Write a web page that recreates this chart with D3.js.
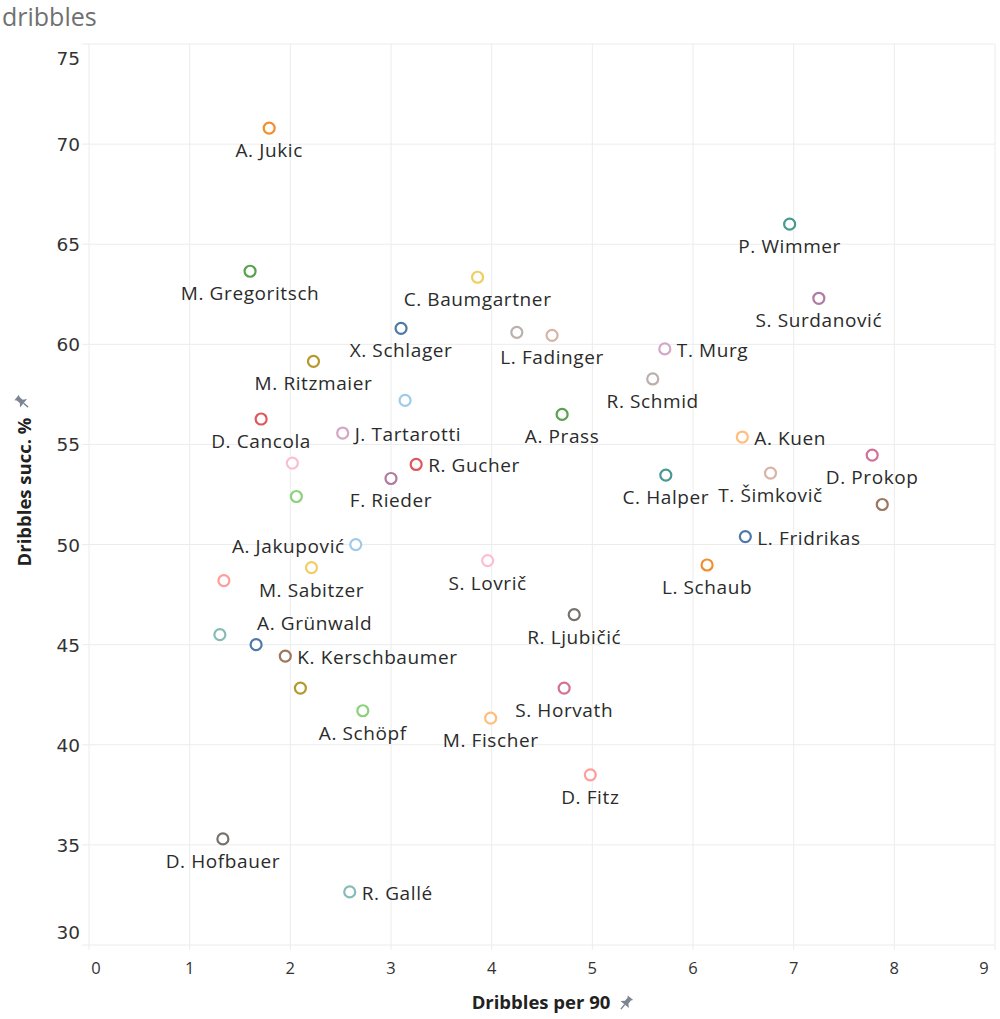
<!DOCTYPE html>
<html><head><meta charset="utf-8">
<script src="https://cdn.jsdelivr.net/npm/d3@7"></script>
<style>
html,body{margin:0;padding:0;background:#fff;}
svg{display:block;}
</style></head>
<body>
<script>
// ---------- data ----------
const players = ["A. Jukic","M. Gregoritsch","C. Baumgartner","X. Schlager","M. Ritzmaier","","L. Fadinger","T. Murg","R. Schmid","P. Wimmer","S. Surdanović","A. Prass","A. Kuen","","D. Cancola","J. Tartarotti","","R. Gucher","F. Rieder","","A. Jakupović","M. Sabitzer","","","A. Grünwald","K. Kerschbaumer","","A. Schöpf","S. Lovrič","R. Ljubičić","S. Horvath","M. Fischer","D. Fitz","D. Hofbauer","R. Gallé","C. Halper","T. Šimkovič","D. Prokop","","L. Fridrikas","L. Schaub"];
const dribblesPer90 = [1.79,1.60,3.86,3.10,2.23,4.25,4.60,5.72,5.60,6.96,7.25,4.70,6.49,3.14,1.71,2.52,2.02,3.25,3.00,2.06,2.65,2.21,1.34,1.30,1.66,1.95,2.10,2.72,3.96,4.82,4.72,3.99,4.98,1.33,2.59,5.73,6.77,7.78,7.88,6.52,6.14];
const dribblesSucc = [70.8,63.65,63.35,60.8,59.15,60.6,60.45,59.77,58.27,66.0,62.3,56.5,55.37,57.2,56.27,55.57,54.07,54.0,53.3,52.4,50.0,48.85,48.2,45.5,45.0,44.43,42.83,41.7,49.2,46.5,42.83,41.33,38.5,35.3,32.65,53.47,53.57,54.47,52.0,50.4,48.98];
const pointColors = ["#f28e2b","#59a14f","#f1ce63","#4e79a7","#b6992d","#bab0ac","#d7b5a6","#d4a6c8","#bab0ac","#499894","#b07aa1","#59a14f","#ffbe7d","#a0cbe8","#e15759","#d4a6c8","#fabfd2","#e15759","#b07aa1","#8cd17d","#a0cbe8","#f1ce63","#ff9d9a","#86bcb6","#4e79a7","#9d7660","#b6992d","#8cd17d","#fabfd2","#79706e","#d37295","#ffbe7d","#ff9d9a","#79706e","#86bcb6","#499894","#d7b5a6","#d37295","#9d7660","#4e79a7","#f28e2b"];
// label placement: b=below, r=right, l=left, a=above (start-anchored)
const labelPlace = ["b","b","b","b","b","","b","r","b","b","b","b","r","","b","r","","r","b","","l","b","","","a","r","","b","b","b","b","b","b","b","r","b","b","b","","r","b"];
const xTicks = [0,1,2,3,4,5,6,7,8,9];
const yTicks = [30,35,40,45,50,55,60,65,70,75];
const chartTitle = "dribbles";
const xTitle = "Dribbles per 90";
const yTitle = "Dribbles succ. %";

// ---------- layout ----------
const W = 1000, H = 1019;
const x = d3.scaleLinear().domain([0,9]).range([89,995]);
const y = d3.scaleLinear().domain([30,75]).range([945,44]);

const svg = d3.select("body").append("svg").attr("width",W).attr("height",H);

svg.append("text").attr("x",2).attr("y",26).text(chartTitle)
  .attr("font-family","'Open Sans', sans-serif").attr("font-size",25).attr("fill","#707070");

// gridlines
const grid = svg.append("g");
grid.selectAll("line.v").data(xTicks).join("line")
  .attr("x1",d=>x(d)).attr("x2",d=>x(d)).attr("y1",y(75)).attr("y2",y(30)+5)
  .attr("stroke","#ececec").attr("stroke-width",1);
grid.selectAll("line.h").data(yTicks).join("line")
  .attr("x1",82).attr("x2",995).attr("y1",d=>y(d)).attr("y2",d=>y(d))
  .attr("stroke","#ececec").attr("stroke-width",1);

// y tick labels
svg.append("g").selectAll("text").data(yTicks).join("text")
  .attr("x",80)
  .attr("y",d=> d===75 ? y(d)+21 : d===30 ? y(d)-6 : y(d)+7)
  .attr("text-anchor","end").text(d=>d)
  .attr("font-family","'DejaVu Sans', Verdana, sans-serif").attr("font-size",18.5).attr("fill","#333");

// x tick labels
svg.append("g").selectAll("text").data(xTicks).join("text")
  .attr("x",d=> d===0 ? x(d)+7 : d===9 ? x(d)-11 : x(d))
  .attr("y",974).attr("text-anchor","middle").text(d=>d)
  .attr("font-family","'Open Sans', sans-serif").attr("font-size",16.5).attr("fill","#333");

// pin icon
function pin(g, px, py, rot){
  const p = g.append("g").attr("transform",`translate(${px},${py}) rotate(${rot})`);
  p.append("path").attr("d","M-3.5,-7 L3.5,-7 L2.2,-5 L2.2,-1 L5.5,2 L-5.5,2 L-2.2,-1 L-2.2,-5 Z").attr("fill","#7d8590");
  p.append("line").attr("x1",0).attr("y1",2).attr("x2",0).attr("y2",8).attr("stroke","#7d8590").attr("stroke-width",1.4);
}

// axis titles
svg.append("text").attr("x",541).attr("y",1009).attr("text-anchor","middle")
  .attr("font-family","'Open Sans', sans-serif").attr("font-weight","bold").attr("font-size",18.5).attr("fill","#222").text(xTitle);
pin(svg, 626, 1003, 40);
svg.append("text").attr("transform","translate(31,492) rotate(-90)").attr("text-anchor","middle")
  .attr("font-family","'Open Sans', sans-serif").attr("font-weight","bold").attr("font-size",18.5).attr("fill","#222").text(yTitle);
pin(svg, 22, 402, -50);

// points
const data = players.map((n,i)=>({name:n, x:dribblesPer90[i], y:dribblesSucc[i], c:pointColors[i], p:labelPlace[i]}));
svg.append("g").selectAll("circle").data(data).join("circle")
  .attr("cx",d=>x(d.x)).attr("cy",d=>y(d.y)).attr("r",5.5)
  .attr("fill","#fff").attr("stroke",d=>d.c).attr("stroke-width",2.2);

// labels
const lab = svg.append("g").attr("font-family","'Open Sans', sans-serif").attr("font-size",19)
  .attr("letter-spacing","0.6px").attr("fill","#2b2b2b");
lab.selectAll("text").data(data.filter(d=>d.name && d.p)).join("text")
  .attr("x",d=>{const cx=x(d.x); return d.p==="r"?cx+12:d.p==="l"?cx-11:d.p==="a"?cx+1:cx;})
  .attr("y",d=>{const cy=y(d.y); return d.p==="b"?cy+29:d.p==="a"?cy-15:cy+8;})
  .attr("text-anchor",d=>d.p==="r"||d.p==="a"?"start":d.p==="l"?"end":"middle")
  .text(d=>d.name);
</script>
</body></html>
